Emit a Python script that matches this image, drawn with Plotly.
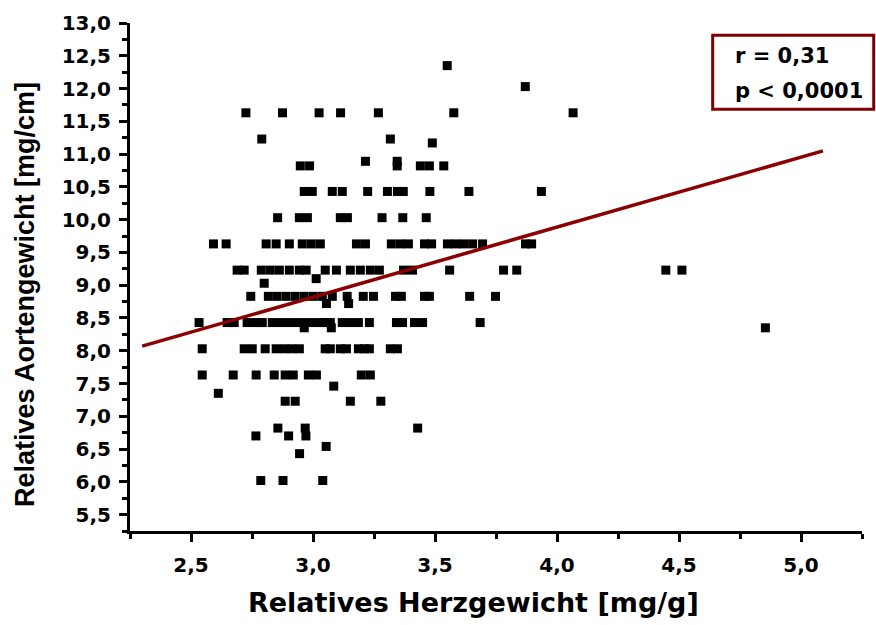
import plotly.graph_objects as go

# ---- data ----
# x-values of points grouped by their relative aortic weight (y) level
x_1235 = [3.55]
x_1203 = [3.87]
x_1163 = [2.725, 2.875, 3.025, 3.113, 3.268, 3.577, 4.066]
x_1123 = [2.79, 3.317]
x_1117 = [3.489]
x_1089 = [3.215, 3.345]
x_1082 = [2.948, 2.986, 3.345, 3.44, 3.477, 3.536]
x_1043 = [2.964, 2.997, 3.079, 3.12, 3.224, 3.305, 3.346, 3.37, 3.479, 3.639, 3.936]
x_1003 = [2.855, 2.944, 2.977, 3.112, 3.141, 3.283, 3.368, 3.464]
x_963 = [2.592, 2.644, 2.808, 2.849, 2.903, 2.956, 2.993, 3.03, 3.178, 3.215,
         3.321, 3.358, 3.391, 3.457, 3.486, 3.551, 3.584, 3.617, 3.654, 3.695,
         3.871, 3.896]
x_923 = [2.689, 2.718, 2.788, 2.825, 2.862, 2.903, 2.944, 2.972, 3.05, 3.096,
         3.153, 3.194, 3.235, 3.272, 3.371, 3.408, 3.56, 3.781, 3.835, 4.446, 4.512]
x_910 = [3.013]
x_903 = [2.80]
x_883 = [2.745, 2.817, 2.853, 2.89, 2.927, 2.964, 3.001, 3.038, 3.079, 3.14,
         3.206, 3.248, 3.338, 3.362, 3.457, 3.477, 3.642, 3.748]
x_872 = [3.055, 3.146]
x_843 = [2.533, 2.648, 2.677, 2.73, 2.763, 2.792, 2.833, 2.866, 2.899, 2.931,
         2.964, 2.997, 3.03, 3.059, 3.071, 3.12, 3.153, 3.186, 3.231, 3.342,
         3.367, 3.416, 3.449, 3.685]
x_835 = [2.964, 3.075, 4.854]
x_803 = [2.546, 2.718, 2.751, 2.804, 2.849, 2.882, 2.915, 2.944, 3.05, 3.071,
         3.112, 3.137, 3.186, 3.211, 3.231, 3.317, 3.346]
x_763 = [2.546, 2.673, 2.767, 2.841, 2.886, 2.919, 2.981, 3.014, 3.198, 3.235]
x_746 = [3.085]
x_735 = [2.612]
x_723 = [2.886, 2.927, 3.153, 3.278]
x_682 = [2.856, 2.968, 3.429]
x_670 = [2.766, 2.90, 2.971]
x_654 = [3.054]
x_643 = [2.945]
x_602 = [2.786, 2.877, 3.04]

rows = [
    (12.35, x_1235), (12.03, x_1203), (11.63, x_1163), (11.23, x_1123),
    (11.17, x_1117), (10.89, x_1089), (10.82, x_1082), (10.43, x_1043),
    (10.03, x_1003), (9.63, x_963), (9.23, x_923), (9.10, x_910),
    (9.03, x_903), (8.83, x_883), (8.72, x_872), (8.43, x_843),
    (8.35, x_835), (8.03, x_803), (7.63, x_763), (7.46, x_746),
    (7.35, x_735), (7.23, x_723), (6.82, x_682), (6.70, x_670),
    (6.54, x_654), (6.43, x_643), (6.02, x_602),
]
xs = [x for yv, xl in rows for x in xl]
ys = [yv for yv, xl in rows for _ in xl]

# regression line end points
fit_x = [2.30, 5.09]
fit_y = [8.07, 11.05]

stat_lines = ["r = 0,31", "p < 0,0001"]
x_title = "Relatives Herzgewicht [mg/g]"
y_title = "Relatives Aortengewicht [mg/cm]"

TICKFONT = dict(family="DejaVu Sans", size=20, color="black")

fig = go.Figure()
fig.add_trace(go.Scatter(
    x=xs, y=ys, mode="markers",
    marker=dict(symbol="square", size=9, color="black", line=dict(width=0)),
    showlegend=False, hoverinfo="x+y"))
fig.add_trace(go.Scatter(
    x=fit_x, y=fit_y, mode="lines",
    line=dict(color="#8B0000", width=3.5),
    showlegend=False))

axis_common = dict(
    showline=True, linecolor="black", linewidth=3,
    ticks="outside", ticklen=8, tickwidth=3, tickcolor="black",
    showgrid=False, zeroline=False, tickformat=".1f",
    tickfont=TICKFONT,
)

fig.update_xaxes(range=[2.25, 5.25], tick0=2.5, dtick=0.5,
                 minor=dict(dtick=0.25, tick0=2.25, ticks="outside", ticklen=5,
                            tickwidth=3, tickcolor="black"),
                 ticklabelstandoff=6,
                 **axis_common)
fig.update_yaxes(range=[5.25, 13.0], tick0=5.5, dtick=0.5,
                 minor=dict(dtick=0.25, tick0=5.25, ticks="outside", ticklen=5,
                            tickwidth=3, tickcolor="black"),
                 ticklabelstandoff=4,
                 **axis_common)

fig.add_annotation(text=x_title, xref="paper", yref="paper",
                   x=0.4686, y=-0.1417, xanchor="center", yanchor="middle",
                   showarrow=False,
                   font=dict(family="DejaVu Sans", size=27, color="black"))
fig.add_annotation(text=y_title, xref="paper", yref="paper",
                   x=-0.1434, y=0.4646, xanchor="center", yanchor="middle",
                   textangle=-90, showarrow=False,
                   font=dict(family="Liberation Sans", size=27, color="black"))

fig.add_shape(type="rect", xref="paper", yref="paper",
              x0=0.796, x1=1.016, y0=0.830, y1=0.976,
              line=dict(color="#800000", width=3), fillcolor="rgba(0,0,0,0)")
fig.add_annotation(text="<b>" + stat_lines[0] + "</b>", xref="paper", yref="paper",
                   x=0.824, y=0.935, xanchor="left", yanchor="middle",
                   showarrow=False,
                   font=dict(family="DejaVu Sans", size=21, color="black"))
fig.add_annotation(text="<b>" + stat_lines[1] + "</b>", xref="paper", yref="paper",
                   x=0.824, y=0.866, xanchor="left", yanchor="middle",
                   showarrow=False,
                   font=dict(family="DejaVu Sans", size=21, color="black"))

fig.update_layout(
    width=876, height=625,
    margin=dict(l=130, r=14, t=23, b=94),
    plot_bgcolor="white", paper_bgcolor="white",
    separators=",.",
    font=dict(family="DejaVu Sans", color="black"),
)

# bold text for ticks and titles via font weight
fig.update_xaxes(tickfont=dict(weight="bold"))
fig.update_yaxes(tickfont=dict(weight="bold"))
fig.update_annotations(font=dict(weight="bold"))

fig.write_html("out.html")
